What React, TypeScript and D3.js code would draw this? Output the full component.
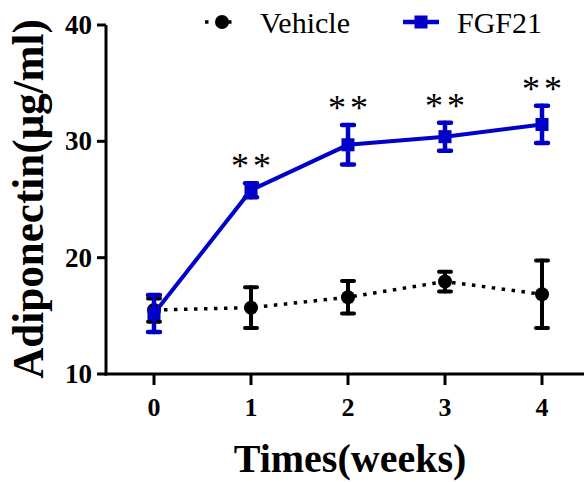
import React from "react";
import * as d3 from "d3";

const weeks = [0, 1, 2, 3, 4];
const vehicleMean = [15.5, 15.7, 16.6, 17.95, 16.85];
const vehicleErr = [1.0, 1.75, 1.4, 0.85, 2.9];
const fgfMean = [15.2, 25.8, 29.7, 30.4, 31.45];
const fgfErr = [1.6, 0.6, 1.7, 1.2, 1.6];
const sigLabels = ["", "**", "**", "**", "**"];
const yTicks = [10, 20, 30, 40];
const seriesNames = ["Vehicle", "FGF21"];

const BLUE = "#0000c8";
const FONT = "Liberation Serif";

export default function App() {
  const W = 584, H = 482;
  const x = d3.scaleLinear().domain([0, 4]).range([154, 542]);
  const y = d3.scaleLinear().domain([10, 40]).range([374, 25]);
  const line = d3.line<number>().x((_, i) => x(weeks[i])).y((d) => y(d));

  const errBars = (mean: number[], err: number[], color: string, sw: number) =>
    mean.map((m, i) => {
      const cx = x(weeks[i]);
      const t = y(m + err[i]);
      const b = y(m - err[i]);
      return (
        <g key={i} stroke={color} strokeWidth={sw} strokeLinecap="round">
          <line x1={cx} x2={cx} y1={t} y2={b} />
          <line x1={cx - 6} x2={cx + 6} y1={t} y2={t} />
          <line x1={cx - 6} x2={cx + 6} y1={b} y2={b} />
        </g>
      );
    });

  return (
    <svg width={W} height={H} style={{ position: "absolute", left: 0, top: 0 }}>
      <rect width={W} height={H} fill="white" />
      {/* axes */}
      <line x1={106} x2={106} y1={y(40)} y2={y(10) + 1.5} stroke="black" strokeWidth={3} />
      <line x1={104.5} x2={584} y1={y(10)} y2={y(10)} stroke="black" strokeWidth={3} />
      {yTicks.map((t) => (
        <g key={t}>
          <line x1={97} x2={106} y1={y(t)} y2={y(t)} stroke="black" strokeWidth={3} />
          <text x={92} y={y(t) + 9} textAnchor="end" fontFamily={FONT} fontWeight="bold" fontSize={27}>
            {t}
          </text>
        </g>
      ))}
      {weeks.map((w) => (
        <g key={w}>
          <line x1={x(w)} x2={x(w)} y1={y(10)} y2={y(10) + 11} stroke="black" strokeWidth={3} />
          <text x={x(w)} y={416} textAnchor="middle" fontFamily={FONT} fontWeight="bold" fontSize={26}>
            {w}
          </text>
        </g>
      ))}
      <text x={350} y={472} textAnchor="middle" fontFamily={FONT} fontWeight="bold" fontSize={40}>
        Times(weeks)
      </text>
      <text
        transform={`translate(43,199) rotate(-90) scale(0.98,1)`}
        textAnchor="middle"
        fontFamily={FONT}
        fontWeight="bold"
        fontSize={44}
      >
        Adiponectin(μg/ml)
      </text>

      {/* vehicle */}
      <path d={line(vehicleMean) || ""} fill="none" stroke="black" strokeWidth={3.5} strokeDasharray="3.5,6.5" />
      {errBars(vehicleMean, vehicleErr, "black", 4)}
      {vehicleMean.map((m, i) => (
        <circle key={i} cx={x(weeks[i])} cy={y(m)} r={7} fill="black" />
      ))}

      {/* FGF21 */}
      <path d={line(fgfMean) || ""} fill="none" stroke={BLUE} strokeWidth={4} />
      {errBars(fgfMean, fgfErr, BLUE, 4.5)}
      {fgfMean.map((m, i) => (
        <rect key={i} x={x(weeks[i]) - 6.5} y={y(m) - 6.5} width={13} height={13} fill={BLUE} />
      ))}

      {/* significance */}
      {fgfMean.map((m, i) =>
        sigLabels[i] ? (
          <text
            key={i}
            x={x(weeks[i]) + 2}
            y={y(m + fgfErr[i]) - 5}
            textAnchor="middle"
            fontFamily={FONT}
            fontSize={36}
            letterSpacing={4}
          >
            {sigLabels[i]}
          </text>
        ) : null
      )}

      {/* legend */}
      <line x1={205} x2={238} y1={22} y2={22} stroke="black" strokeWidth={3.5} strokeDasharray="3.5,8" />
      <circle cx={222} cy={22} r={7} fill="black" />
      <text x={260} y={33} fontFamily={FONT} fontSize={30}>{seriesNames[0]}</text>
      <line x1={403} x2={439} y1={22} y2={22} stroke={BLUE} strokeWidth={4.5} />
      <rect x={414.5} y={15.5} width={13} height={13} fill={BLUE} />
      <text x={457} y={33} fontFamily={FONT} fontSize={30}>{seriesNames[1]}</text>
    </svg>
  );
}
